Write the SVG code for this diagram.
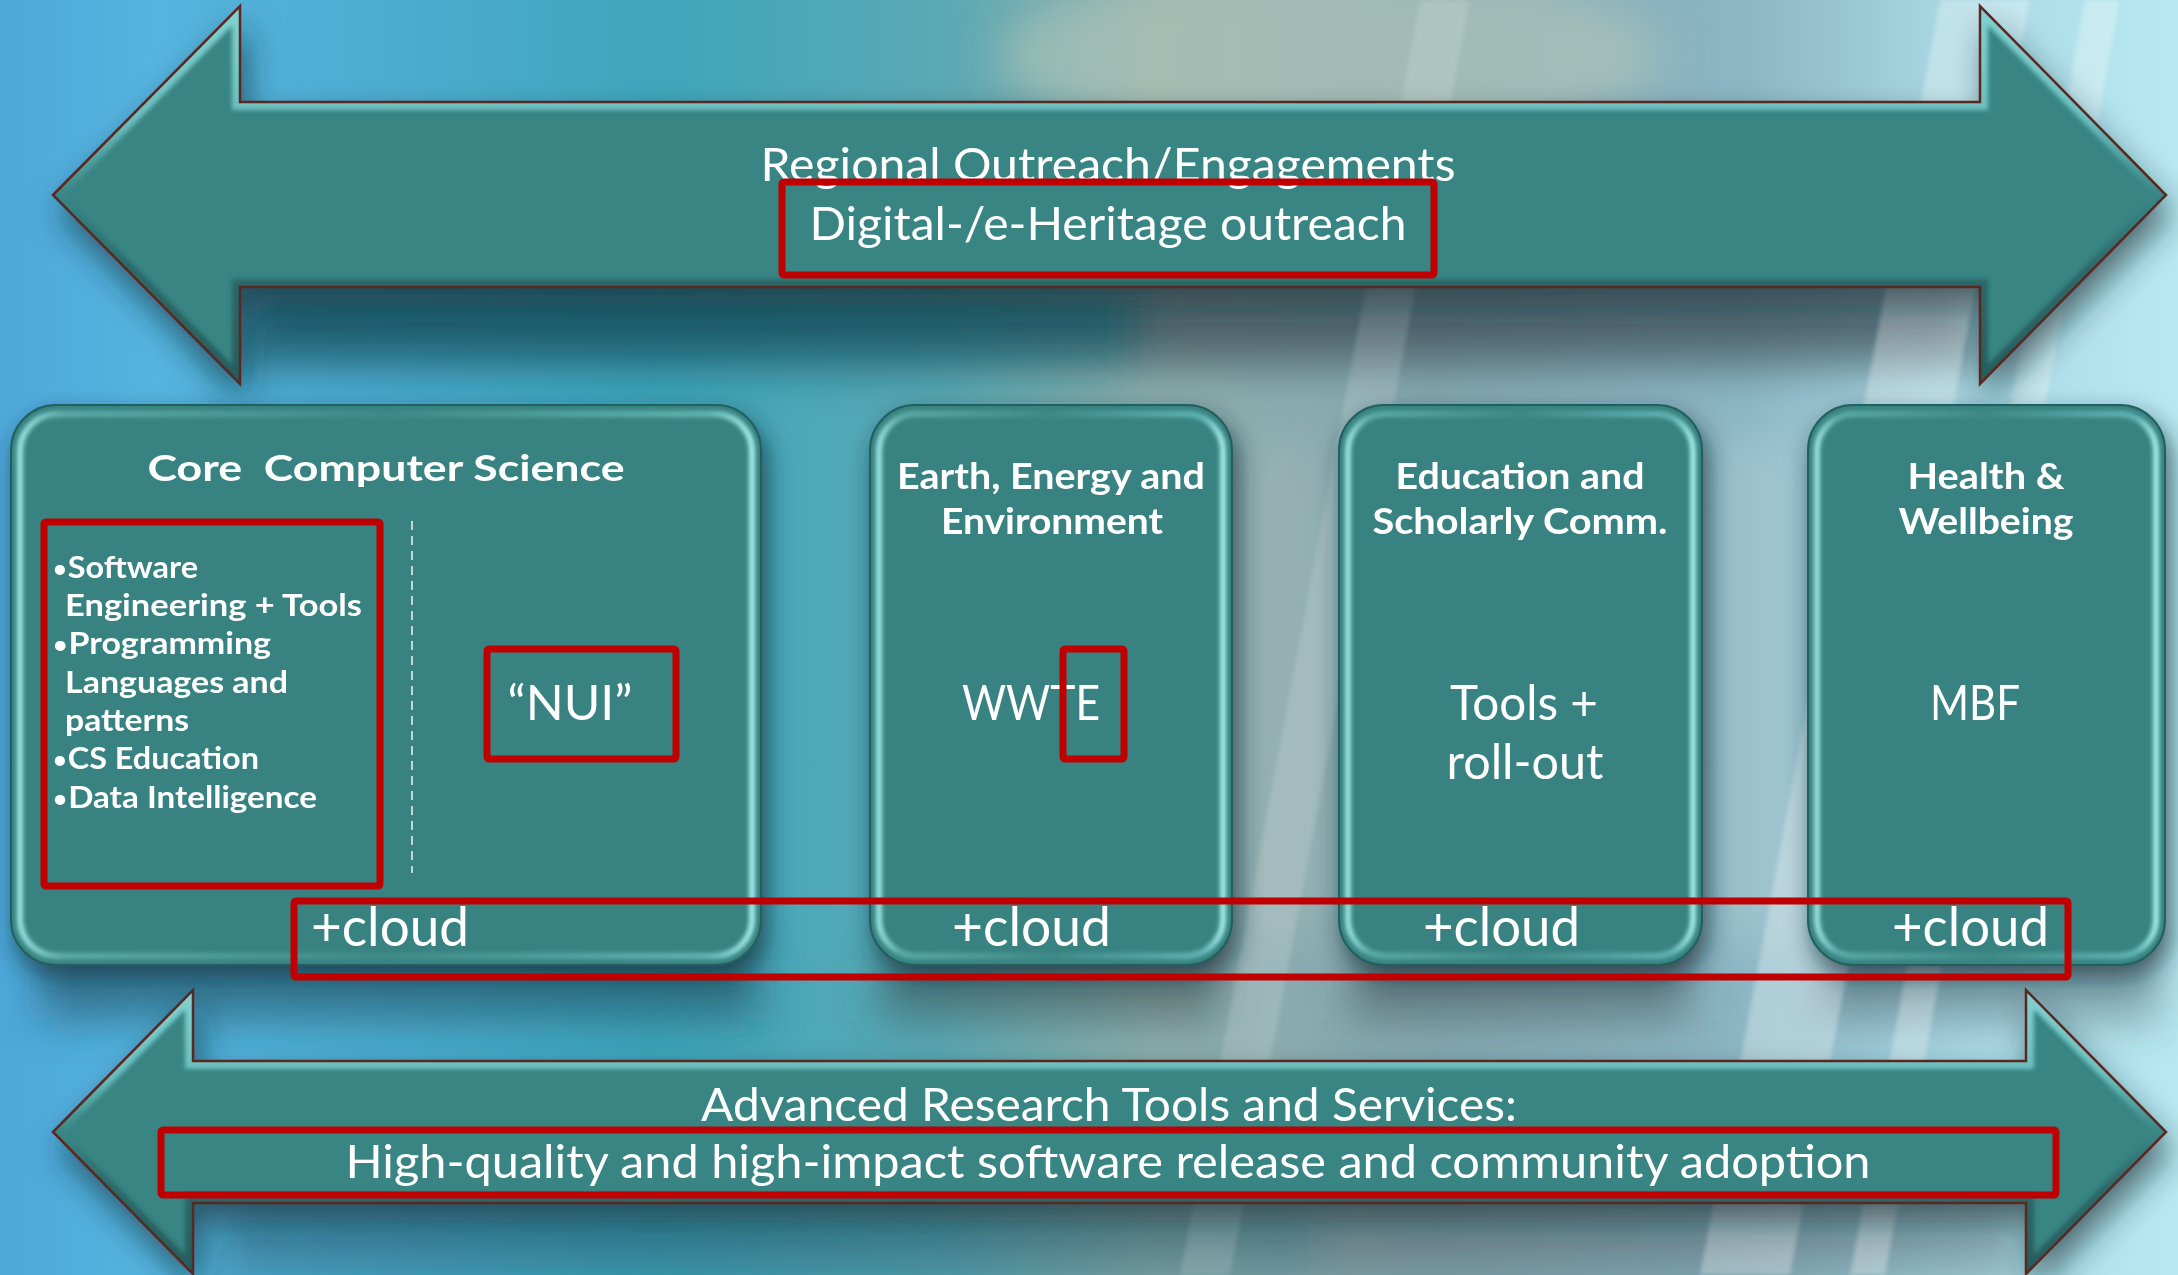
<svg xmlns="http://www.w3.org/2000/svg" width="2178" height="1275" viewBox="0 0 2178 1275">
  <defs>
    <style>
      .txt { font-family: Lato, "Open Sans", "DejaVu Sans", sans-serif; fill: #ffffff; }
      .band { font-size: 46px; font-weight: 400; }
      .title { font-size: 36px; font-weight: 700; }
      .item { font-size: 31px; font-weight: 700; }
      .dot { font-weight: 400; font-size: 26px; }
      .mid { font-size: 48px; font-weight: 400; }
      .cloud { font-size: 54px; font-weight: 400; }
      .box { fill: #388381; stroke: #245f5e; stroke-width: 2; }
      .bevel { fill: none; stroke: url(#bevelGrad); stroke-width: 6; }
      .arrow { fill: #388584; }
      .arrow-edge { fill: none; stroke: #5a2820; stroke-width: 2.5; stroke-linejoin: miter; }
      .arrow-rim { fill: none; stroke: url(#rimGrad); stroke-width: 16; }
      .back-edge { stroke: #16302e; stroke-width: 3; }
      .mark { fill: none; stroke: #c00000; stroke-width: 7; }
      .divider { stroke: #ffffff; stroke-width: 1.6; stroke-dasharray: 9 6; opacity: 0.85; }
    </style>

    <linearGradient id="bgGrad" x1="0" y1="0" x2="1" y2="0">
      <stop offset="0" stop-color="#4ea8da"/>
      <stop offset="0.07" stop-color="#56b4df"/>
      <stop offset="0.18" stop-color="#4daccf"/>
      <stop offset="0.3" stop-color="#3fa6bc"/>
      <stop offset="0.43" stop-color="#5aa9b4"/>
      <stop offset="0.53" stop-color="#8eaeac"/>
      <stop offset="0.66" stop-color="#86a9b2"/>
      <stop offset="0.8" stop-color="#8cb6c4"/>
      <stop offset="0.9" stop-color="#aad9e5"/>
      <stop offset="1" stop-color="#b8e8f1"/>
    </linearGradient>

    <linearGradient id="bevelGrad" x1="0" y1="0" x2="1" y2="0">
      <stop offset="0" stop-color="#9de6e6"/>
      <stop offset="0.06" stop-color="#5faeac"/>
      <stop offset="0.5" stop-color="#3f8b89"/>
      <stop offset="0.94" stop-color="#64b8b8"/>
      <stop offset="1" stop-color="#a8f0f0"/>
    </linearGradient>

    <linearGradient id="rimGrad" x1="0" y1="0" x2="0" y2="1">
      <stop offset="0" stop-color="#82d2d2"/>
      <stop offset="0.3" stop-color="#6cbebe"/>
      <stop offset="0.5" stop-color="#3a8686"/>
      <stop offset="0.7" stop-color="#2c6868"/>
      <stop offset="1" stop-color="#275c5c"/>
    </linearGradient>

    <filter id="haze" x="-20%" y="-50%" width="140%" height="200%">
      <feGaussianBlur stdDeviation="22"/>
    </filter>
    <filter id="soft" x="-5%" y="-5%" width="110%" height="110%">
      <feGaussianBlur stdDeviation="2"/>
    </filter>
    <filter id="boxShadow" x="-10%" y="-10%" width="125%" height="130%">
      <feDropShadow dx="5" dy="12" stdDeviation="12" flood-color="#0b2a32" flood-opacity="0.7"/>
    </filter>
    <filter id="arrowShadow" x="-5%" y="-20%" width="112%" height="160%">
      <feDropShadow dx="6" dy="18" stdDeviation="16" flood-color="#0b2a32" flood-opacity="0.65"/>
    </filter>

    <path id="topArrow" d="M53,195 L240,6 L240,102 L1980,102 L1980,6 L2166,195 L1980,384 L1980,287 L240,287 L240,384 Z"/>
    <path id="bottomArrow" d="M53,1132 L193,990 L193,1061 L2026,1061 L2026,990 L2166,1132 L2026,1274 L2026,1203 L193,1203 L193,1274 Z"/>
    <clipPath id="topClip"><use href="#topArrow"/></clipPath>
    <clipPath id="bottomClip"><use href="#bottomArrow"/></clipPath>
  </defs>

  <!-- backdrop -->
  <g id="backdrop">
    <rect width="2178" height="1275" fill="url(#bgGrad)"/>
    <g filter="url(#haze)">
      <ellipse cx="1330" cy="55" rx="330" ry="90" fill="#b2c6b8" opacity="0.6"/>
      <!-- shade under the upper band -->
      <rect x="240" y="280" width="900" height="85" fill="#1a5460" opacity="0.85"/>
      <rect x="1140" y="280" width="840" height="85" fill="#3e5058" opacity="0.75"/>
      <!-- shade under the area boxes -->
      <rect x="40" y="960" width="720" height="60" fill="#1e4e60" opacity="0.6"/>
      <rect x="880" y="960" width="340" height="60" fill="#3c4e54" opacity="0.55"/>
      <rect x="1350" y="960" width="340" height="60" fill="#3c4e54" opacity="0.5"/>
      <rect x="1820" y="960" width="340" height="60" fill="#3c4e58" opacity="0.45"/>
      <!-- shade under the lower band -->
      <rect x="220" y="1200" width="1100" height="80" fill="#285868" opacity="0.45"/>
      <rect x="1320" y="1200" width="700" height="80" fill="#4a5a60" opacity="0.4"/>
      <!-- lighter gaps between boxes -->
      <rect x="1240" y="440" width="90" height="500" fill="#a2b6b8" opacity="0.45"/>
      <rect x="1712" y="440" width="90" height="500" fill="#bcd6dc" opacity="0.35"/>
    </g>
    <g opacity="0.3" filter="url(#soft)">
      <polygon points="1700,1275 1790,1275 2030,0 1940,0" fill="#ffffff"/>
      <polygon points="1850,1275 1885,1275 2120,0 2085,0" fill="#ffffff"/>
      <polygon points="1180,1275 1230,1275 1470,0 1420,0" fill="#ffffff" opacity="0.5"/>
    </g>
  </g>

  <!-- upper band arrow -->
  <g id="outreach-arrow">
    <use href="#topArrow" class="arrow" filter="url(#arrowShadow)"/>
    <g clip-path="url(#topClip)">
      <use href="#topArrow" class="arrow-rim" filter="url(#soft)"/>
      <line class="back-edge" x1="241" y1="6" x2="241" y2="102"/>
      <line class="back-edge" x1="241" y1="287" x2="241" y2="384"/>
    </g>
    <use href="#topArrow" class="arrow-edge"/>
    <text class="txt band" x="1108" y="181" text-anchor="middle" font-size="44" textLength="695" lengthAdjust="spacingAndGlyphs">Regional Outreach/Engagements</text>
    <text class="txt band" x="1108" y="240" text-anchor="middle" textLength="597" lengthAdjust="spacingAndGlyphs">Digital-/e-Heritage outreach</text>
  </g>

  <!-- research areas -->
  <g id="core-computer-science">
    <rect class="box" x="11" y="405" width="750" height="560" rx="45" filter="url(#boxShadow)"/>
    <rect class="bevel" x="20" y="414" width="732" height="542" rx="37" filter="url(#soft)"/>
    <text class="txt title" x="386" y="481" text-anchor="middle" font-size="42" textLength="477" lengthAdjust="spacingAndGlyphs" style="white-space:pre">Core  Computer Science</text>
    <g class="txt item">
      <text x="52" y="578" textLength="146" lengthAdjust="spacingAndGlyphs"><tspan class="dot">•</tspan>Software</text>
      <text x="65" y="616" textLength="297" lengthAdjust="spacingAndGlyphs">Engineering + Tools</text>
      <text x="52" y="654" textLength="219" lengthAdjust="spacingAndGlyphs"><tspan class="dot">•</tspan>Programming</text>
      <text x="65" y="693" textLength="223" lengthAdjust="spacingAndGlyphs">Languages and</text>
      <text x="65" y="731" textLength="124" lengthAdjust="spacingAndGlyphs">patterns</text>
      <text x="52" y="769" textLength="207" lengthAdjust="spacingAndGlyphs"><tspan class="dot">•</tspan>CS Education</text>
      <text x="52" y="808" textLength="265" lengthAdjust="spacingAndGlyphs"><tspan class="dot">•</tspan>Data Intelligence</text>
    </g>
    <line class="divider" x1="412" y1="521" x2="412" y2="873"/>
    <text class="txt mid" x="570" y="720" text-anchor="middle" textLength="125" lengthAdjust="spacingAndGlyphs">“NUI”</text>
    <text class="txt cloud" x="311" y="946" textLength="158" lengthAdjust="spacingAndGlyphs">+cloud</text>
  </g>

  <g id="earth-energy-environment">
    <rect class="box" x="870" y="405" width="362" height="560" rx="45" filter="url(#boxShadow)"/>
    <rect class="bevel" x="879" y="414" width="344" height="542" rx="37" filter="url(#soft)"/>
    <text class="txt title" x="1051" y="489" text-anchor="middle" textLength="308" lengthAdjust="spacingAndGlyphs">Earth, Energy and</text>
    <text class="txt title" x="1052" y="534" text-anchor="middle" textLength="222" lengthAdjust="spacingAndGlyphs">Environment</text>
    <text class="txt mid" x="1031" y="720" text-anchor="middle" textLength="138" lengthAdjust="spacingAndGlyphs">WWTE</text>
    <text class="txt cloud" x="952" y="946" textLength="159" lengthAdjust="spacingAndGlyphs">+cloud</text>
  </g>

  <g id="education-scholarly-comm">
    <rect class="box" x="1339" y="405" width="363" height="560" rx="45" filter="url(#boxShadow)"/>
    <rect class="bevel" x="1348" y="414" width="345" height="542" rx="37" filter="url(#soft)"/>
    <text class="txt title" x="1520" y="489" text-anchor="middle" textLength="249" lengthAdjust="spacingAndGlyphs">Education and</text>
    <text class="txt title" x="1520" y="534" text-anchor="middle" textLength="295" lengthAdjust="spacingAndGlyphs">Scholarly Comm.</text>
    <text class="txt mid" x="1524" y="720" text-anchor="middle" textLength="148" lengthAdjust="spacingAndGlyphs">Tools +</text>
    <text class="txt mid" x="1525" y="779" text-anchor="middle" textLength="157" lengthAdjust="spacingAndGlyphs">roll-out</text>
    <text class="txt cloud" x="1423" y="946" textLength="157" lengthAdjust="spacingAndGlyphs">+cloud</text>
  </g>

  <g id="health-wellbeing">
    <rect class="box" x="1808" y="405" width="357" height="560" rx="45" filter="url(#boxShadow)"/>
    <rect class="bevel" x="1817" y="414" width="339" height="542" rx="37" filter="url(#soft)"/>
    <text class="txt title" x="1986" y="489" text-anchor="middle" textLength="157" lengthAdjust="spacingAndGlyphs">Health &amp;</text>
    <text class="txt title" x="1986" y="534" text-anchor="middle" textLength="175" lengthAdjust="spacingAndGlyphs">Wellbeing</text>
    <text class="txt mid" x="1975" y="720" text-anchor="middle" textLength="90" lengthAdjust="spacingAndGlyphs">MBF</text>
    <text class="txt cloud" x="1892" y="946" textLength="157" lengthAdjust="spacingAndGlyphs">+cloud</text>
  </g>

  <!-- lower band arrow -->
  <g id="tools-services-arrow">
    <use href="#bottomArrow" class="arrow" filter="url(#arrowShadow)"/>
    <g clip-path="url(#bottomClip)">
      <use href="#bottomArrow" class="arrow-rim" filter="url(#soft)"/>
      <line class="back-edge" x1="194" y1="990" x2="194" y2="1061"/>
      <line class="back-edge" x1="194" y1="1203" x2="194" y2="1274"/>
    </g>
    <use href="#bottomArrow" class="arrow-edge"/>
    <text class="txt band" x="1109" y="1121" text-anchor="middle" font-size="47" textLength="816" lengthAdjust="spacingAndGlyphs">Advanced Research Tools and Services:</text>
    <text class="txt band" x="1108" y="1178" text-anchor="middle" font-size="47" textLength="1525" lengthAdjust="spacingAndGlyphs">High-quality and high-impact software release and community adoption</text>
  </g>

  <!-- highlight frames -->
  <g id="highlights">
    <rect class="mark" x="782" y="182" width="652" height="93" rx="2"/>
    <rect class="mark" x="44" y="522" width="336" height="364" rx="2"/>
    <rect class="mark" x="487" y="649" width="189" height="110" rx="2"/>
    <rect class="mark" x="1063" y="649" width="61" height="110" rx="2"/>
    <rect class="mark" x="294" y="901" width="1774" height="76" rx="2"/>
    <rect class="mark" x="161" y="1130" width="1895" height="65" rx="2"/>
  </g>
</svg>
